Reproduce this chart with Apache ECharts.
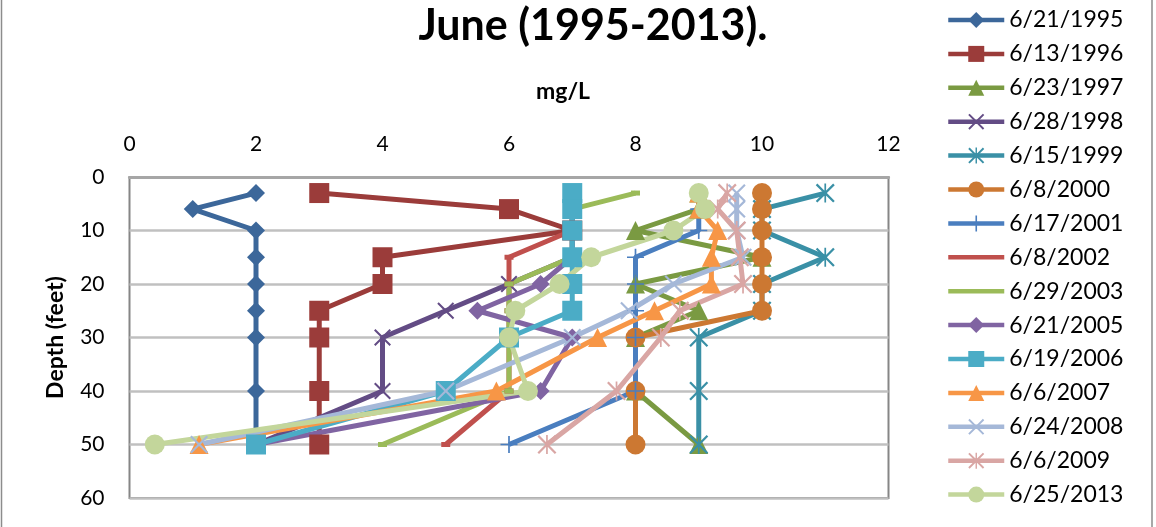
<!DOCTYPE html>
<html lang="en">
<head>
  <meta charset="UTF-8">
  <title>June (1995-2013)</title>
  <style>
    html, body { margin: 0; padding: 0; background: #fff; }
  </style>
</head>
<body>
  <div id="main" style="width:1156px;height:527px;"></div>
  <script src="https://cdn.jsdelivr.net/npm/echarts@6/dist/echarts.min.js"></script>
  <script>
    // depth of each sample (feet)
    var depths = [3, 6, 10, 15, 20, 25, 30, 40, 50];

    // mg/L read per survey date
    var v1995 = [2, 1, 2, 2, 2, 2, 2, 2, 2];
    var v1996 = [3, 6, 7, 4, 4, 3, 3, 3, 3];
    var v1997 = [9, 9, 8, 10, 8, 9, 8, 8, 9];
    var v1998 = [7, 7, 7, 7, 6, 5, 4, 4, 2];
    var v1999 = [11, 10, 10, 11, 10, 10, 9, 9, 9];
    var v2000 = [10, 10, 10, 10, 10, 10, 8, 8, 8];
    var v2001 = [9, 9, 9, 8, 8, 8, 8, 8, 6];
    var v2002 = [7, 7, 7, 6, 6, 6, 6, 6, 5];
    var v2003 = [8, 7, 7, 7, 6, 6, 6, 6, 4];
    var v2005 = [7, 7, 7, 7, 6.5, 5.5, 7, 6.5, 2];
    var v2006 = [7, 7, 7, 7, 7, 7, 6, 5, 2];
    var v2007 = [9, 9, 9.3, 9.2, 9.2, 8.3, 7.4, 5.8, 1.1];
    var v2008 = [9.6, 9.6, 9.6, 9.7, 8.6, 7.9, 7, 5, 1.1];
    var v2009 = [9.45, 9.3, 9.6, 9.65, 9.7, 8.7, 8.4, 7.7, 6.6];
    var v2013 = [9, 9.1, 8.6, 7.3, 6.8, 6.1, 6, 6.3, 0.4];

    var xTicks = [0, 2, 4, 6, 8, 10, 12];

    var xMark = 'path://M0,1.7L1.7,0L10,8.3L18.3,0L20,1.7L11.7,10L20,18.3L18.3,20L10,11.7L1.7,20L0,18.3L8.3,10Z';
    var starMark = xMark + 'M9.1,0L10.9,0L10.9,20L9.1,20Z';
    var plusMark = 'path://M9,0H11V9H20V11H11V20H9V11H0V9H9Z';

    var defs = [
      ['6/21/1995', v1995, '#3C679A', 'diamond', 18],
      ['6/13/1996', v1996, '#9B3C3A', 'rect', 20],
      ['6/23/1997', v1997, '#7A9A42', 'triangle', 19],
      ['6/28/1998', v1998, '#634C85', xMark, 17],
      ['6/15/1999', v1999, '#3A90A6', starMark, 19],
      ['6/8/2000', v2000, '#CC7832', 'circle', 20],
      ['6/17/2001', v2001, '#4A7EBF', plusMark, 17],
      ['6/8/2002', v2002, '#C0504D', 'rect', [9, 5]],
      ['6/29/2003', v2003, '#9BBB59', 'rect', [9, 5]],
      ['6/21/2005', v2005, '#8064A2', 'diamond', 18],
      ['6/19/2006', v2006, '#4BACC6', 'rect', 20],
      ['6/6/2007', v2007, '#F79646', 'triangle', 19],
      ['6/24/2008', v2008, '#A5B8D8', xMark, 18],
      ['6/6/2009', v2009, '#D9A6A4', starMark, 19],
      ['6/25/2013', v2013, '#C3D69B', 'circle', 20]
    ];

    var series = defs.map(function (d) {
      return {
        name: d[0],
        type: 'line',
        data: d[1].map(function (v, i) { return [v, depths[i]]; }),
        symbol: d[3],
        symbolSize: d[4],
        showSymbol: true,
        color: d[2],
        lineStyle: { color: d[2], width: 5 },
        itemStyle: { color: d[2], borderWidth: 0 },
        emphasis: { disabled: true }
      };
    });

    // the two dash-marker series show a plain line in the legend
    var legendData = defs.map(function (d) {
      if (Array.isArray(d[4])) {
        return { name: d[0], itemStyle: { opacity: 0 } };
      }
      return { name: d[0] };
    });

    var font = 'Lato, "Open Sans", sans-serif';
    var myChart = echarts.init(document.getElementById('main'));
    myChart.setOption({
      animation: false,
      backgroundColor: '#fff',
      textStyle: { fontFamily: font },
      title: {
        text: 'June (1995-2013).',
        left: 588,
        top: 0,
        textAlign: 'center',
        textStyle: { fontFamily: font, fontWeight: 'bold', fontSize: 43, color: '#000' }
      },
      legend: {
        orient: 'vertical',
        left: 946,
        top: 8,
        padding: 0,
        itemWidth: 56,
        itemHeight: 20,
        itemGap: 9.9,
        lineStyle: { width: 4.5 },
        textStyle: { fontFamily: font, fontSize: 23, color: '#000', lineHeight: 24 },
        data: legendData
      },
      grid: {
        left: 129.5,
        top: 177,
        width: 759,
        height: 321,
        show: true,
        borderColor: '#868686',
        borderWidth: 2
      },
      xAxis: {
        type: 'value',
        position: 'top',
        min: xTicks[0],
        max: xTicks[xTicks.length - 1],
        interval: 2,
        axisLine: { show: true, lineStyle: { color: '#A6A6A6', width: 3 } },
        axisTick: { show: false },
        splitLine: { show: false },
        axisLabel: { margin: 22, fontSize: 21, color: '#000', fontFamily: font }
      },
      yAxis: {
        type: 'value',
        inverse: true,
        min: 0,
        max: 60,
        interval: 10,
        name: 'Depth (feet)',
        nameLocation: 'middle',
        nameRotate: 90,
        nameGap: 62,
        nameTextStyle: { fontFamily: font, fontWeight: 'bold', fontSize: 23, color: '#000' },
        axisLine: { show: false },
        axisTick: { show: false },
        splitLine: { show: true, lineStyle: { color: '#C0C0C0', width: 2.5 } },
        axisLabel: { margin: 25, fontSize: 21, color: '#000', fontFamily: font }
      },
      graphic: [{
        type: 'rect',
        silent: true,
        shape: { x: 1.5, y: -10, width: 1150.5, height: 560 },
        style: { fill: 'none', stroke: '#8C8C8C', lineWidth: 1.5 }
      }, {
        type: 'text',
        silent: true,
        left: 536,
        top: 80,
        style: { text: 'mg/L', fill: '#000', font: 'bold 23px ' + font }
      }],
      series: series
    });
  </script>
</body>
</html>
